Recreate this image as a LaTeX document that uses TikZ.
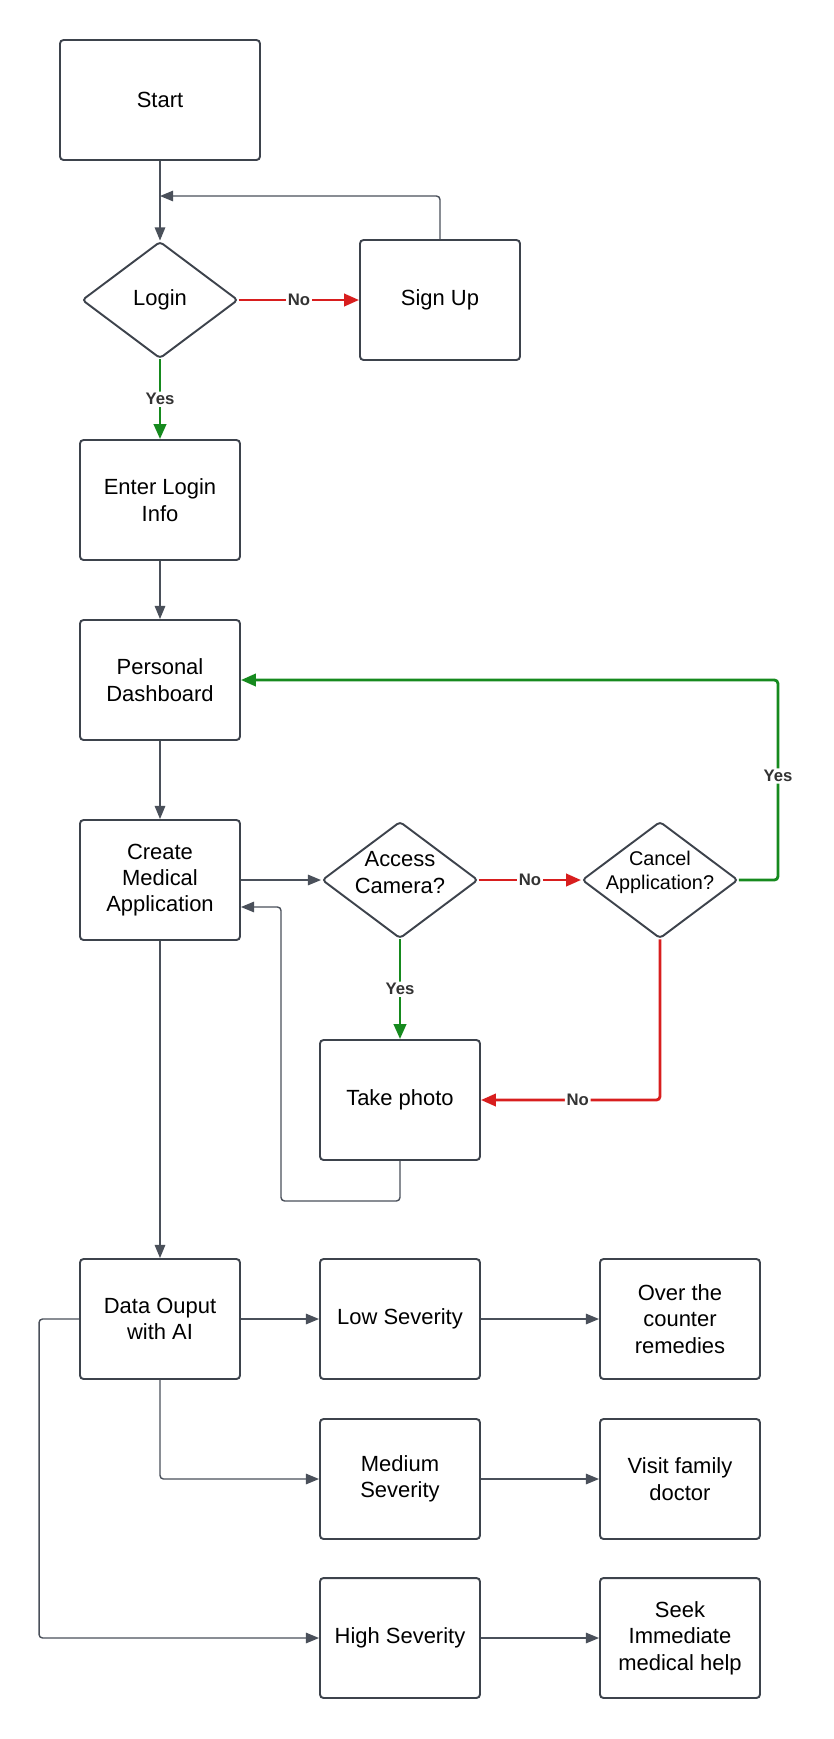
\documentclass[tikz,border=0pt]{standalone}
\usepackage{fontspec}
\setmainfont{Liberation Sans}
\usepackage{xcolor}
\usetikzlibrary{positioning,calc,shapes.geometric,arrows.meta}
\definecolor{boxline}{HTML}{3D434C}
\definecolor{arrowgray}{HTML}{4A505A}
\definecolor{nored}{HTML}{D81E1E}
\definecolor{yesgreen}{HTML}{168A1E}
\definecolor{labelgray}{HTML}{333333}

\begin{document}
\begin{tikzpicture}[x=0.02cm,y=-0.02cm,
    box/.style={draw=boxline,line width=1.1pt,rounded corners=2pt,minimum width=3.2cm,minimum height=2.4cm,align=center,font=\fontsize{12.5}{15}\selectfont},
    decision/.style={draw=boxline,line width=1.1pt,diamond,rounded corners=2pt,minimum width=3.12cm,minimum height=2.34cm,inner sep=0pt,aspect=1.33},
    dtext/.style={align=center,font=\fontsize{12.5}{15}\selectfont},
    conn/.style={draw=arrowgray,line width=0.8pt,rounded corners=2pt,-{Triangle[length=7.5pt,width=6pt]}},
    nolink/.style={draw=nored,line width=1.6pt,rounded corners=2pt,-{Triangle[length=8.5pt,width=7pt]}},
    yeslink/.style={draw=yesgreen,line width=1.6pt,rounded corners=2pt,-{Triangle[length=8.5pt,width=7pt]}},
    lbl/.style={fill=white,text=labelgray,inner sep=1pt,font=\bfseries\fontsize{9.5}{11}\selectfont}]

  \useasboundingbox (0,0) rectangle (833,1739);

  \node[box,minimum width=4cm] (start) at (160,100) {Start};
  \node[decision,label={[dtext]center:Login}] (login) at (160,300) {};
  \node[box] (signup) at (440,300) {Sign Up};
  \node[box] (enter) at (160,500) {Enter Login\\Info};
  \node[box] (dash) at (160,680) {Personal\\Dashboard};
  \node[box] (create) at (160,880) {Create\\Medical\\Application};
  \node[decision,label={[dtext,yshift=0.15cm]center:Access\\Camera?}] (access) at (400,880) {};
  \node[decision,label={[dtext,yshift=0.15cm,font=\fontsize{11.3}{13.5}\selectfont]center:Cancel\\Application?}] (cancel) at (660,880) {};
  \node[box] (photo) at (400,1100) {Take photo};

  \node[box] (data) at (160,1319) {Data Ouput\\with AI};
  \node[box] (low) at (400,1319) {Low Severity};
  \node[box] (otc) at (680,1319) {Over the\\counter\\remedies};
  \node[box] (medium) at (400,1479) {Medium\\Severity};
  \node[box] (visit) at (680,1479) {Visit family\\doctor};
  \node[box] (high) at (400,1638) {High Severity};
  \node[box] (seek) at (680,1638) {Seek\\Immediate\\medical help};

  \coordinate (merge) at (160,196);

  \draw[conn] (start) -- (login);
  \draw[conn] (signup.north) |- (merge);
  \draw[nolink] (login.east) -- node[lbl]{No} (signup.west);
  \draw[yeslink] (login.south) -- node[lbl]{Yes} (enter.north);
  \draw[conn] (enter) -- (dash);
  \draw[conn] (dash) -- (create);
  \draw[conn] (create.east) -- (access.west);
  \draw[nolink] (access.east) -- node[lbl]{No} (cancel.west);
  \draw[yeslink] (access.south) -- node[lbl]{Yes} (photo.north);
  \draw[yeslink] (cancel.east) -- ++(39,0) |- node[lbl,pos=0.26]{Yes} (dash.east);
  \draw[nolink] (cancel.south) |- node[lbl,pos=0.73]{No} (photo.east);
  \draw[conn] (photo.south) -- ++(0,40) -- ++(-119,0) |- ([yshift=-0.54cm]create.east);
  \draw[conn] (create) -- (data);

  \draw[conn] (data) -- (low);
  \draw[conn] (data.south) |- (medium.west);
  \draw[conn] (data.west) -- ++(-40,0) |- (high.west);
  \draw[conn] (low) -- (otc);
  \draw[conn] (medium) -- (visit);
  \draw[conn] (high) -- (seek);
\end{tikzpicture}
\end{document}
